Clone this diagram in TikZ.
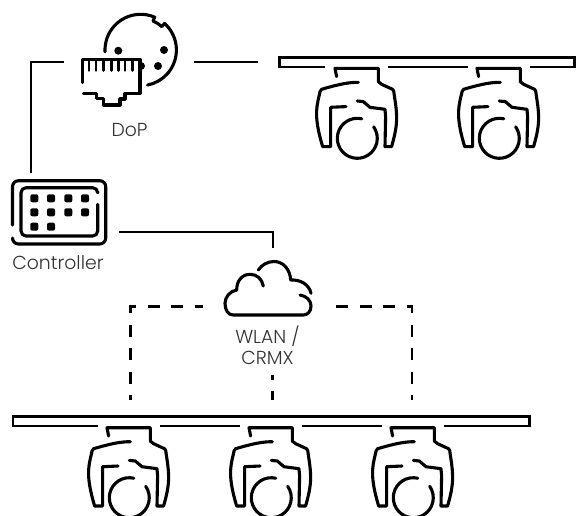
\documentclass[tikz,border=0pt]{standalone}
\usepackage{fontspec}
\setmainfont{Poppins Light}
\usepackage{xcolor}
\definecolor{lbl}{RGB}{50,50,50}
\tikzset{
  lnk/.style={line width=2.3pt},
  dsh/.style={line width=2.7pt, dash pattern=on 12pt off 11.5pt},
  ico/.style={line width=3.1pt, line cap=round, line join=round},
  bar/.style={line width=2.6pt, line join=miter},
  lbl/.style={text=lbl, font=\fontsize{18.8}{21.5}\selectfont, align=center, inner sep=0pt}
}
% moving head, #1 #2 = centre of the lens
\newcommand\mhead[2]{
  \begin{scope}[shift={(#1,#2)}]
    \draw[ico] (-20.7,-61.7) -- (-22.3,-70) -- (21,-70) -- (21,-56.7) -- (24.3,-54) -- (35.3,-49)
      .. controls (36.5,-48) and (36.7,-46) .. (36.7,-45)
      .. controls (38,-36) and (39.5,-28) .. (39.3,-18.3) .. controls (39,-8) and (36,2) .. (34.3,8.3)
      -- (27.7,8.3) -- (28.3,-21.7) -- (27.7,-29) -- (12.7,-31) -- (6,-36.7) -- (0,-37.3);
    \draw[ico] (1,-56) .. controls (-8,-56) and (-17,-54.5) .. (-35.7,-49)
      .. controls (-37,-48) and (-37.7,-46) .. (-38,-43.3)
      .. controls (-40,-35) and (-41,-30) .. (-40.7,-21.7) .. controls (-40,-10) and (-37,0) .. (-34.7,8.3)
      -- (-26.7,8.3) -- (-26.7,-31) -- (-11.3,-31.7);
    \draw[ico] (-77:20) arc (-77:-395:20);
  \end{scope}
}

\begin{document}
\begin{tikzpicture}[x=1pt,y=-1pt]
  \useasboundingbox (0,0) rectangle (576,515);
  \clip (0,0) rectangle (576,515);
  % upper truss
  \draw[bar] (325,67) -- (279.5,67) -- (279.5,57.5) -- (574.5,57.5) -- (574.5,67) -- (530,67);
  \draw[bar] (388,67) -- (468,67);
  \mhead{357.3}{138.3}
  \mhead{499.3}{138.3}
  % lower truss
  \draw[bar] (98,426) -- (13,426) -- (13,416.5) -- (529.5,416.5) -- (529.5,426) -- (444,426);
  \draw[bar] (160,426) -- (240,426);
  \draw[bar] (302,426) -- (382,426);
  \mhead{129.3}{497.7}
  \mhead{271.3}{497.7}
  \mhead{413.3}{497.7}
  % DoP: rj45
  \draw[ico] (82.7,82.7) -- (82.7,59.5) -- (140,59.5) -- (140,93.3) -- (125,93.3) -- (125,99) -- (120,99)
    -- (120,105) -- (103.3,105) -- (103.3,98.3) -- (96.7,98.3) -- (96.7,93.3) -- (83.3,93.3);
  \foreach \x in {89,96,103.7,111.3,118.3,125,132.7}
    \draw[line width=2.8pt,line cap=round] (\x,60) -- (\x,70.5);
  \fill (141,70) arc (90:-90:4) -- cycle;
  % DoP: xlr
  \draw[ico] (140.7,50) ++(-183:35.7) arc (-183:-67:35.7) -- ++(-67:-4.2) arc (-67:-48:31.5)
    -- ++(-48:4.2) arc (-48:79:35.7);
  \fill (118.3,50.7) circle (4) (164,50) circle (4) (158,66) circle (4);
  \node[lbl] (dop) at (129.5,130) {DoP};
  % controller
  \draw[ico,rounded corners=6pt] (12.5,225) -- (12.5,180.7) -- (105.7,180.7) -- (105.7,244) -- (12.5,244) -- (12.5,238);
  \draw[ico,rounded corners=5pt] (97.7,204.3) -- (97.7,236) -- (21,236) -- (21,187.7) -- (97.7,187.7) -- (97.7,191.7);
  \foreach \y in {198.3,212.3} {
    \foreach \x in {34.3,51,68.3,85}
      \fill[rounded corners=2pt] (\x-4,\y-4) rectangle ++(8,8);
  }
  \foreach \x in {34.3,51}
    \fill[rounded corners=2pt] (\x-4,222.7) rectangle ++(8,8);
  \node[lbl] (ctrl) at (58,262.5) {Controller};
  % cloud
  \draw[ico] (263.3,286) .. controls (262,279) and (257,274.3) .. (250,274.3)
    .. controls (242,274.3) and (236.5,281) .. (236.7,290)
    .. controls (230,291) and (225,297) .. (225,303.3)
    .. controls (225,310) and (228,315) .. (233.3,315) -- (303.3,315)
    .. controls (308,315) and (311,311) .. (311,306) .. controls (311,300) and (306,296) .. (300,295);
  \draw[ico] (258.3,270) .. controls (262,264.5) and (268,261.5) .. (274,261.5)
    .. controls (283,261.5) and (290,269) .. (290.7,280) .. controls (300,279.5) and (309,284) .. (311,293.3);
  \node[lbl] (wlan) at (267.5,345) {WLAN /\\CRMX};
  % links
  \coordinate (ctrln) at (30.7,172.7);
  \coordinate (dopw) at (64,62);
  \coordinate (dope) at (194,62);
  \coordinate (trussw) at (258,62);
  \coordinate (ctrle) at (119,232);
  \coordinate (cloudn) at (272.7,248);
  \draw[lnk] (ctrln) |- (dopw);
  \draw[lnk] (dope) -- (trussw);
  \draw[lnk] (ctrle) -| (cloudn);
  \coordinate (cloudw) at (203,306.5);
  \coordinate (cloude) at (334,306.5);
  \coordinate (cloudb) at (272.7,375);
  \coordinate (barl) at (130.7,400);
  \coordinate (barm) at (272.7,400);
  \coordinate (barr) at (412,400);
  \draw[dsh,dash phase=7pt] (barl) |- (cloudw);
  \draw[dsh,dash phase=7pt] (barr) |- (cloude);
  \draw[dsh,dash phase=3pt] (barm) -- (cloudb);
\end{tikzpicture}
\end{document}
